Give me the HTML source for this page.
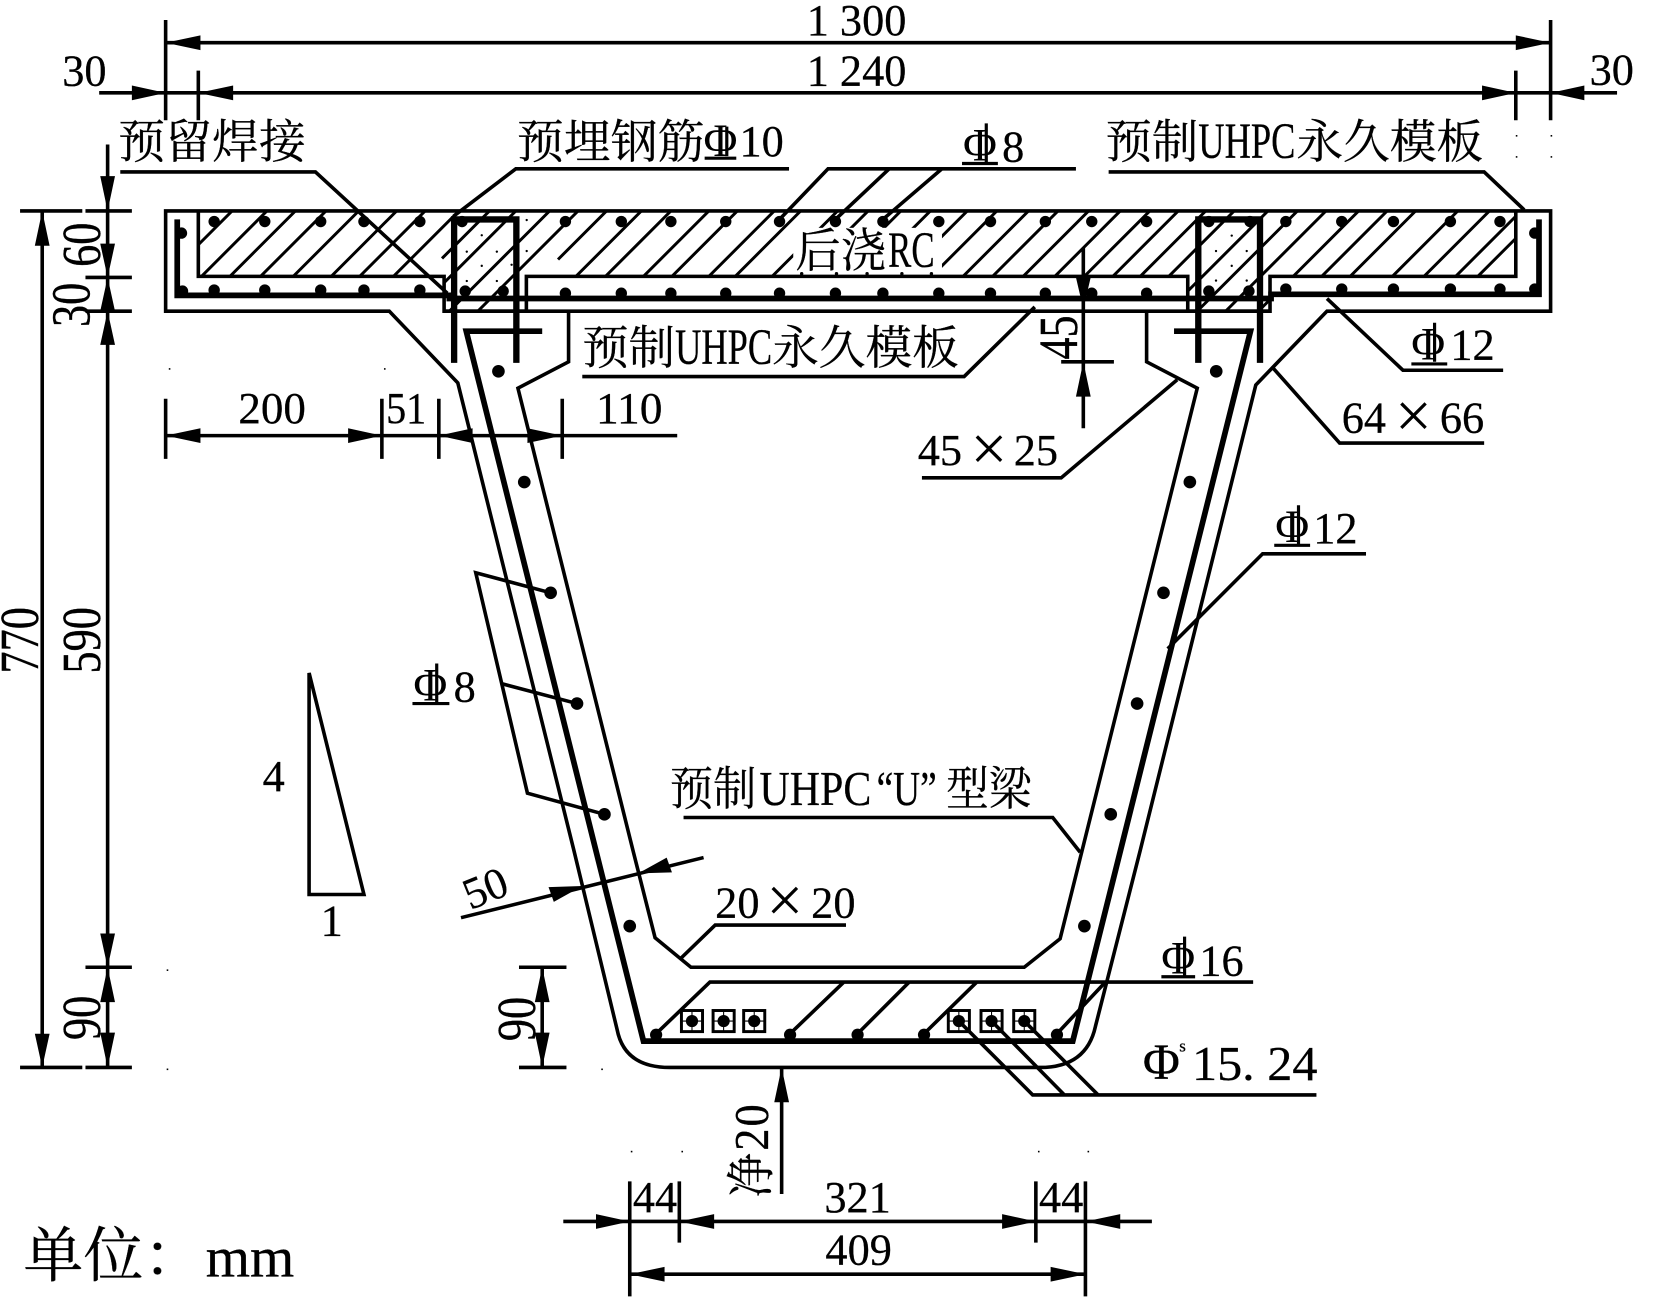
<!DOCTYPE html>
<html><head><meta charset="utf-8"><title>U beam section</title>
<style>html,body{margin:0;padding:0;background:#fff}svg{display:block}
text{font-family:"Liberation Serif","Noto Serif CJK SC",serif;font-size:42px;fill:#000;stroke:#000;stroke-width:.25px}
.c{font-size:44px}.m{text-anchor:middle}.u{font-size:48px}.x{font-size:62px;stroke:none;text-anchor:middle}.p{font-size:44px;text-anchor:middle}</style></head><body>
<svg xmlns="http://www.w3.org/2000/svg" width="1654" height="1297" viewBox="0 0 1568 1229.6">
<defs>
<clipPath id="hc"><path d="M188,200H1437V262H1204V295H1126V262H499V295H421V262H188Z"/></clipPath>
</defs>
<rect width="1568" height="1230" fill="#fff"/>
<!-- hatch -->
<g clip-path="url(#hc)">
<path fill="none" stroke="#000" stroke-width="2.8" d="M153,300L253,200M180,300L280,200M209,300L309,200M240,300L340,200M276,300L376,200M303,300L403,200M335,300L435,200
M419,245L464,200M389,300L489,200M421,300L521,200M448,300L548,200M529,246L575,200M508,300L608,200M536,300L636,200M572,300L672,200M599,300L699,200M634,300L734,200M659,300L759,200M694,300L794,200
M723,300L823,200M754,300L854,200M782,300L882,200M817,300L917,200M845,300L945,200M875,300L975,200M903,300L1003,200M932,300L1032,200M962,300L1062,200M990,300L1090,200M1017,300L1117,200M1043,300L1143,200M1070,300L1170,200M1102,300L1202,200M1130,300L1230,200M1157,300L1257,200M1188,300L1288,200M1215,300L1315,200M1242,300L1342,200M1282,300L1382,200M1312,300L1412,200M1342,300L1442,200M1363,300L1463,200
M185,235L220,200"/>
<rect x="752" y="216" width="141" height="46" fill="#fff"/>
</g>
<g fill="none" stroke="#000" stroke-width="3.4">
<!-- slab and section outline -->
<path d="M157,200H1470V295H1258L1190.5,365L1081,806L1038.5,973Q1030,1012 986,1012H635Q592,1012 585,976L544,806L434,363L369,295H157Z"/>
<path d="M539,295V343L491,368L600,806L621,889L655,917H971L1005,890L1135,368L1087,343V295"/>
<path d="M188,200V262H421V295H499V262H1126V295H1204V262H1437V200"/>
<path d="M421,295H1204"/>
<!-- leaders -->
<path d="M114,163H299L424,278"/>
<path d="M748,160H489L430,205"/>
<path d="M1020,160H785L739,208M843,160L792,208M893,160L837,208"/>
<path d="M1051,163H1407L1445,199"/>
<path d="M552,357H914L981,291"/>
<path d="M1425,351H1330L1258,283"/>
<path d="M1407,420H1270L1207,349"/>
<path d="M874,453H1006L1116,360"/>
<path d="M522,562L451,543L500,752L573,772M475,648L547,667"/>
<path d="M1295,525H1197L1107,615"/>
<path d="M648,775H998L1024,808"/>
<path d="M802,877H678L646,908"/>
<path d="M1188,931H673L622,980M800,931L749,980M862,931L813,980M926,931L876,980M1048,931L1002,980"/>
<path d="M1248,1038H979L909,968M1009,1038L940,968M1041,1038L971,968"/>
<path d="M293,638V848H345Z"/>
<!-- dimension lines -->
<path d="M157,40.5H1470M94,88H1533M157,19V114M188,67V114M1437,67V114M1470,19V114"/>
<path d="M40,200V1012M19,200H78M19,1012H78M102,137V1012M81,200H125M81,263H125M81,295H125M81,917H125M81,1012H125"/>
<path d="M157,413H642M157,378V435M362,378V435M416,378V435M533,378V435"/>
<path d="M514,917V1012M492,917H537M492,1012H537"/>
<path d="M741,1012V1132"/>
<path d="M534,1158H1092M597,1120V1229M644,1120V1178M982,1120V1178M1029,1120V1229M597,1208H1029"/>
<path d="M1027,235V406M1006,343H1056"/>
<path d="M437,870L667,813"/>
</g>
<!-- arrowheads -->
<path fill="#000" d="M157,40.5L190,33.5V47.5ZM1470,40.5L1437,33.5V47.5Z
M157,88L125,81V95ZM188,88L221,81V95ZM1437,88L1405,81V95ZM1470,88L1502,81V95Z
M40,200L33,233H47ZM40,1012L33,980H47Z
M102,200L95,167H109ZM102,263L95,231H109ZM102,263L95,295H109ZM102,295L95,327H109ZM102,917L95,885H109ZM102,917L95,950H109ZM102,1012L95,979H109Z
M157,413L190,406V420ZM362,413L330,406V420ZM416,413L448,406V420ZM533,413L500,406V420Z
M514,917L507,950H521ZM514,1012L507,979H521Z
M741,1012L734,1045H748Z
M597,1158L565,1151V1165ZM644,1158L677,1151V1165ZM982,1158L950,1151V1165ZM1029,1158L1062,1151V1165Z
M597,1208L630,1201V1215ZM1029,1208L996,1201V1215Z
M1027,293L1020,263H1034ZM1027,343L1020,376H1034Z
M552,840L520,841L525,855ZM605,828L637,827L632,813Z"/>
<!-- thick rebar -->
<g fill="none" stroke="#000" stroke-width="5.4">
<path d="M168,208V280H426V283H1205V279H1459V208"/>
<path d="M514,314H442L610,987H1017L1185.5,314H1113"/>
</g>
<g fill="none" stroke="#000" stroke-width="6">
<path d="M430.5,344V208H489.5V344"/>
<path d="M1136,344V208H1194.5V344"/>
</g>
<!-- dots -->
<g fill="#000">
<circle cx="203" cy="210" r="5.4"/><circle cx="251" cy="210" r="5.4"/><circle cx="304" cy="210" r="5.4"/><circle cx="345" cy="210" r="5.4"/><circle cx="398" cy="210" r="5.4"/><circle cx="438" cy="210" r="5.4"/><circle cx="536" cy="210" r="5.4"/><circle cx="589" cy="210" r="5.4"/><circle cx="636" cy="210" r="5.4"/><circle cx="688" cy="210" r="5.4"/><circle cx="739" cy="210" r="5.4"/><circle cx="792" cy="210" r="5.4"/><circle cx="837" cy="210" r="5.4"/><circle cx="890" cy="210" r="5.4"/><circle cx="939" cy="210" r="5.4"/><circle cx="991" cy="210" r="5.4"/><circle cx="1035" cy="210" r="5.4"/><circle cx="1087" cy="210" r="5.4"/><circle cx="1146" cy="210" r="5.4"/><circle cx="1185" cy="210" r="5.4"/><circle cx="1219" cy="210" r="5.4"/><circle cx="1272" cy="210" r="5.4"/><circle cx="1321" cy="210" r="5.4"/><circle cx="1375" cy="210" r="5.4"/><circle cx="1422" cy="210" r="5.4"/>
<circle cx="173" cy="276" r="5.4"/><circle cx="203" cy="275" r="5.4"/><circle cx="251" cy="275" r="5.4"/><circle cx="304" cy="275" r="5.4"/><circle cx="345" cy="275" r="5.4"/><circle cx="398" cy="275" r="5.4"/><circle cx="441" cy="276" r="5.4"/><circle cx="477" cy="276" r="5.4"/><circle cx="536" cy="278" r="5.4"/><circle cx="589" cy="278" r="5.4"/><circle cx="636" cy="278" r="5.4"/><circle cx="688" cy="278" r="5.4"/><circle cx="739" cy="278" r="5.4"/><circle cx="792" cy="278" r="5.4"/><circle cx="837" cy="278" r="5.4"/><circle cx="890" cy="278" r="5.4"/><circle cx="939" cy="278" r="5.4"/><circle cx="991" cy="278" r="5.4"/><circle cx="1035" cy="278" r="5.4"/><circle cx="1087" cy="278" r="5.4"/><circle cx="1146" cy="276" r="5.4"/><circle cx="1184" cy="276" r="5.4"/><circle cx="1219" cy="274" r="5.4"/><circle cx="1272" cy="274" r="5.4"/><circle cx="1321" cy="274" r="5.4"/><circle cx="1375" cy="274" r="5.4"/><circle cx="1422" cy="274" r="5.4"/><circle cx="1455" cy="274" r="5.4"/>
<circle cx="172" cy="221" r="5.4"/><circle cx="1455" cy="221" r="5.4"/>
<circle cx="472.5" cy="352" r="6"/><circle cx="497" cy="457" r="6"/><circle cx="522" cy="562" r="6"/><circle cx="547" cy="667" r="6"/><circle cx="573" cy="772" r="6"/><circle cx="597" cy="878" r="6"/>
<circle cx="1153" cy="352" r="6"/><circle cx="1128" cy="457" r="6"/><circle cx="1103" cy="562" r="6"/><circle cx="1078" cy="667" r="6"/><circle cx="1053" cy="772" r="6"/><circle cx="1028" cy="878" r="6"/>
<circle cx="622" cy="981" r="5.8"/><circle cx="749" cy="981" r="5.8"/><circle cx="813" cy="981" r="5.8"/><circle cx="876" cy="981" r="5.8"/><circle cx="1002" cy="981" r="5.8"/>
<circle cx="656" cy="968" r="5.8"/><circle cx="686" cy="968" r="5.8"/><circle cx="715" cy="968" r="5.8"/><circle cx="909" cy="968" r="5.8"/><circle cx="940" cy="968" r="5.8"/><circle cx="971" cy="968" r="5.8"/>
<!-- joint stipple -->
<circle cx="456.7" cy="223" r="1.1"/><circle cx="442.5" cy="238.6" r="1.1"/><circle cx="471" cy="238.6" r="1.1"/><circle cx="456.7" cy="252" r="1.1"/><circle cx="471" cy="266.4" r="1.1"/><circle cx="442.5" cy="266.4" r="1.1"/><circle cx="485" cy="251" r="1.1"/><circle cx="499.3" cy="208.6" r="1.1"/><circle cx="499.3" cy="238" r="1.1"/>
<circle cx="1167.7" cy="223.4" r="1.1"/><circle cx="1152.8" cy="238" r="1.1"/><circle cx="1181.9" cy="238" r="1.1"/><circle cx="1167.7" cy="252" r="1.1"/><circle cx="1152.8" cy="266" r="1.1"/><circle cx="1181.9" cy="266" r="1.1"/>
<circle cx="760" cy="259.5" r="1.6"/><circle cx="793" cy="259.5" r="1.6"/><circle cx="822" cy="259.5" r="1.6"/><circle cx="855" cy="259.5" r="1.6"/><circle cx="883" cy="259.5" r="1.6"/>
<!-- stray specks -->
<rect x="160" y="349" width="1.5" height="1.5"/><rect x="364" y="349" width="1.5" height="1.5"/><rect x="158" y="919" width="1.5" height="1.5"/><rect x="158" y="1013" width="1.5" height="1.5"/><rect x="570" y="919" width="1.5" height="1.5"/><rect x="570" y="1013" width="1.5" height="1.5"/><rect x="598" y="1091" width="1.5" height="1.5"/><rect x="646" y="1091" width="1.5" height="1.5"/><rect x="984" y="1091" width="1.5" height="1.5"/><rect x="1031" y="1091" width="1.5" height="1.5"/><rect x="1437" y="128" width="1.5" height="1.5"/><rect x="1470" y="128" width="1.5" height="1.5"/><rect x="1437" y="148" width="1.5" height="1.5"/><rect x="1470" y="148" width="1.5" height="1.5"/>
</g>
<!-- strand boxes -->
<g fill="none" stroke="#000" stroke-width="2.8">
<rect x="646" y="958" width="20" height="20"/><rect x="676" y="958" width="20" height="20"/><rect x="705" y="958" width="20" height="20"/><rect x="899" y="958" width="20" height="20"/><rect x="930" y="958" width="20" height="20"/><rect x="961" y="958" width="20" height="20"/>
<path d="M656,958V978M646,968H666M686,958V978M676,968H696M715,958V978M705,968H725M909,958V978M899,968H919M940,958V978M930,968H950M971,958V978M961,968H981" stroke-width="1"/>
</g>
<!-- horizontal labels -->
<text class="m" x="812" y="33">1 300</text>
<text class="m" x="812" y="81">1 240</text>
<text x="59" y="81">30</text>
<text x="1507" y="80">30</text>
<text class="c" x="112" y="150" textLength="178" lengthAdjust="spacingAndGlyphs">预留焊接</text>
<text class="c" x="490" y="150" textLength="178" lengthAdjust="spacingAndGlyphs">预埋钢筋</text>
<text x="701" y="148">10</text>
<text x="950" y="153">8</text>
<text class="c" x="1048" y="150" textLength="88" lengthAdjust="spacingAndGlyphs">预制</text>
<text class="u" x="1136" y="150" textLength="92" lengthAdjust="spacingAndGlyphs">UHPC</text>
<text class="c" x="1229" y="150" textLength="177" lengthAdjust="spacingAndGlyphs">永久模板</text>
<text class="c" x="552" y="345" textLength="88" lengthAdjust="spacingAndGlyphs">预制</text>
<text class="u" x="640" y="345" textLength="92" lengthAdjust="spacingAndGlyphs">UHPC</text>
<text class="c" x="732" y="345" textLength="177" lengthAdjust="spacingAndGlyphs">永久模板</text>
<text class="c" x="754" y="253" textLength="86" lengthAdjust="spacingAndGlyphs">后浇</text>
<text class="u" x="842" y="253" textLength="44" lengthAdjust="spacingAndGlyphs">RC</text>
<text x="226" y="401" textLength="64" lengthAdjust="spacingAndGlyphs">200</text>
<text x="366" y="401" textLength="38" lengthAdjust="spacingAndGlyphs">51</text>
<text x="565" y="401" textLength="63" lengthAdjust="spacingAndGlyphs">110</text>
<text x="1375" y="341">12</text>
<text x="1245" y="515">12</text>
<text x="430" y="665">8</text>
<text x="1137" y="925">16</text>
<text x="1272" y="410">64</text><text class="x" x="1340" y="415">×</text><text x="1365" y="410">66</text>
<text x="870" y="441">45</text><text class="x" x="937.5" y="446">×</text><text x="961" y="441">25</text>
<text x="678" y="870">20</text><text class="x" x="744" y="874">×</text><text x="769" y="870">20</text>
<text class="c" x="635" y="763" textLength="82" lengthAdjust="spacingAndGlyphs">预制</text>
<text style="font-size:46px" x="720" y="763" textLength="106" lengthAdjust="spacingAndGlyphs">UHPC</text>
<text style="font-size:46px" x="831" y="763" textLength="57" lengthAdjust="spacingAndGlyphs">“U”</text>
<text class="c" x="897" y="763" textLength="81" lengthAdjust="spacingAndGlyphs">型梁</text>
<text x="249" y="750">4</text>
<text x="304" y="887">1</text>
<text style="font-size:46px" x="1130" y="1024" textLength="119" lengthAdjust="spacingAndGlyphs">15. 24</text>
<text x="1118" y="997" style="font-size:16px">s</text>
<text class="m" x="1101" y="1023" style="font-size:48px">Φ</text>
<text x="600" y="1149" textLength="42" lengthAdjust="spacingAndGlyphs">44</text>
<text class="m" x="813" y="1149">321</text>
<text x="985" y="1149" textLength="42" lengthAdjust="spacingAndGlyphs">44</text>
<text class="m" x="814" y="1199">409</text>
<text x="22" y="1210" style="font-size:57px">单位</text>
<text x="136" y="1210" style="font-size:57px">：</text>
<text x="195" y="1210" style="font-size:54px">mm</text>
<text class="m" transform="translate(460,842) rotate(-22)" x="0" y="14">50</text>
<!-- rotated labels -->
<text class="m" transform="translate(36,607) rotate(-90) scale(1,1.25)">770</text>
<text class="m" transform="translate(95,607) rotate(-90) scale(1,1.25)">590</text>
<text class="m" transform="translate(95,232) rotate(-90) scale(1,1.25)">60</text>
<text class="m" transform="translate(85,289) rotate(-90) scale(1,1.25)">30</text>
<text class="m" transform="translate(95,965) rotate(-90) scale(1,1.25)">90</text>
<text class="m" transform="translate(507,966) rotate(-90) scale(1,1.25)">90</text>
<text class="m" transform="translate(1021,320) rotate(-90) scale(1,1.25)">45</text>
<text transform="translate(728,1135) rotate(-90) scale(1,1.1)" textLength="88">净20</text>
<!-- steel grade symbols -->
<g stroke="#000" stroke-width="3" fill="none">
<text class="p" x="683" y="148" style="stroke:none">Φ</text><path d="M689,120V148M668,150H698"/>
<text class="p" x="929" y="152" style="stroke:none">Φ</text><path d="M935,117V154M912,155H946"/>
<text class="p" x="1354" y="341" style="stroke:none">Φ</text><path d="M1360,306V343M1338,345H1372"/>
<text class="p" x="1225" y="514" style="stroke:none">Φ</text><path d="M1231,479V516M1208,517H1242"/>
<text class="p" x="408" y="664" style="stroke:none">Φ</text><path d="M414,629V666M391,667H426"/>
<text class="p" x="1117" y="923" style="stroke:none">Φ</text><path d="M1123,888V925M1101,926H1133"/>
</g>
</svg>
</body></html>
